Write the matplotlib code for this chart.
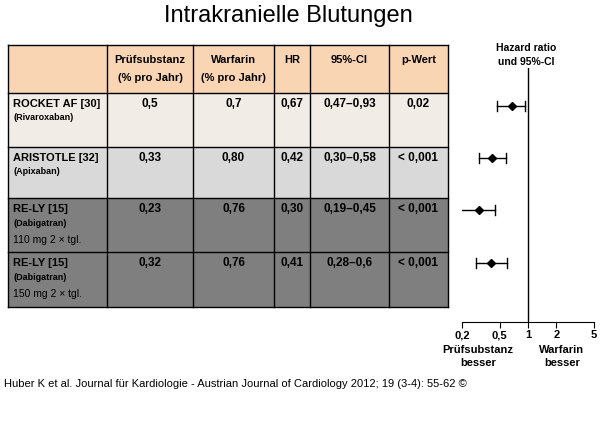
import matplotlib
matplotlib.use("Agg")
import matplotlib.pyplot as plt
from matplotlib.patches import Rectangle

plt.rcParams["font.family"] = "Liberation Sans"

studies = ["ROCKET AF [30]", "ARISTOTLE [32]", "RE-LY [15]", "RE-LY [15]"]
drugs = ["(Rivaroxaban)", "(Apixaban)", "(Dabigatran)", "(Dabigatran)"]
doses = ["", "", "110 mg 2 × tgl.", "150 mg 2 × tgl."]
pruef = ["0,5", "0,33", "0,23", "0,32"]
warf = ["0,7", "0,80", "0,76", "0,76"]
hr_txt = ["0,67", "0,42", "0,30", "0,41"]
ci_txt = ["0,47–0,93", "0,30–0,58", "0,19–0,45", "0,28–0,6"]
p_txt = ["0,02", "< 0,001", "< 0,001", "< 0,001"]
hr = [0.67, 0.42, 0.30, 0.41]
lo = [0.47, 0.30, 0.19, 0.28]
hi = [0.93, 0.58, 0.45, 0.60]
ticks = [0.2, 0.5, 1, 2, 5]
tick_labels = ["0,2", "0,5", "1", "2", "5"]

fig = plt.figure(figsize=(6, 4.32), dpi=100)
ax = fig.add_axes([0, 0, 1, 1])
ax.set_xlim(0, 600); ax.set_ylim(432, 0); ax.axis("off")

ax.text(288, 16, "Intrakranielle Blutungen", ha="center", va="center", fontsize=17)

cols = [8, 107, 193, 274, 310, 389, 448]
rows = [45, 93, 147, 198, 252, 307]
fills = ["#f9d5b3", "#f1ede6", "#d9d9d9", "#7f7f7f", "#7f7f7f"]
for i, c in enumerate(fills):
    ax.add_patch(Rectangle((cols[0], rows[i]), cols[-1] - cols[0], rows[i + 1] - rows[i],
                           facecolor=c, edgecolor="none"))
for y in rows:
    ax.plot([cols[0], cols[-1]], [y, y], color="black", lw=1)
for x in cols:
    ax.plot([x, x], [rows[0], rows[-1]], color="black", lw=1)

hdr = [("Prüfsubstanz", "(% pro Jahr)"), ("Warfarin", "(% pro Jahr)"), ("HR", ""), ("95%-CI", ""), ("p-Wert", "")]
for j, (a, b) in enumerate(hdr):
    xc = (cols[j + 1] + cols[j + 2]) / 2
    ax.text(xc, 60, a, ha="center", va="center", fontsize=8, fontweight="bold")
    if b:
        ax.text(xc, 78, b, ha="center", va="center", fontsize=8, fontweight="bold")

for i in range(4):
    yt = rows[i + 1] + 11
    ax.text(13, yt, studies[i], ha="left", va="center", fontsize=8, fontweight="bold")
    ax.text(13, yt + 14, drugs[i], ha="left", va="center", fontsize=6.5, fontweight="bold")
    if doses[i]:
        ax.text(13, yt + 31, doses[i], ha="left", va="center", fontsize=7.5)
    vals = [pruef[i], warf[i], hr_txt[i], ci_txt[i], p_txt[i]]
    for j, v in enumerate(vals):
        xc = (cols[j + 1] + cols[j + 2]) / 2
        ax.text(xc, yt, v, ha="center", va="center", fontsize=8.5, fontweight="bold")

ax.text(526, 48, "Hazard ratio", ha="center", va="center", fontsize=7.5, fontweight="bold")
ax.text(526, 62, "und 95%-CI", ha="center", va="center", fontsize=7.5, fontweight="bold")
ax.text(478, 350, "Prüfsubstanz", ha="center", va="center", fontsize=8, fontweight="bold")
ax.text(478, 363, "besser", ha="center", va="center", fontsize=8, fontweight="bold")
ax.text(562, 350, "Warfarin", ha="center", va="center", fontsize=8, fontweight="bold")
ax.text(562, 363, "besser", ha="center", va="center", fontsize=8, fontweight="bold")
ax.text(4, 384, "Huber K et al. Journal für Kardiologie - Austrian Journal of Cardiology 2012; 19 (3-4): 55-62 ©",
        ha="left", va="center", fontsize=8)

# forest plot
y0, y1 = 68, 322
fa = fig.add_axes([462 / 600, 1 - y1 / 432, 132 / 600, (y1 - y0) / 432])
fa.set_xscale("log")
fa.set_xlim(0.2, 5)
fa.set_ylim(y1, y0)
fa.patch.set_alpha(0)
for s in ["top", "left", "right"]:
    fa.spines[s].set_visible(False)
fa.set_yticks([])
fa.set_xticks(ticks)
fa.set_xticklabels(tick_labels, fontsize=8, fontweight="bold")
fa.minorticks_off()
fa.tick_params(axis="x", length=4, direction="out", pad=2)
fa.axvline(1, color="black", lw=1)
ys = [106, 158, 210, 263]
for i in range(4):
    fa.plot([lo[i], hi[i]], [ys[i], ys[i]], color="black", lw=1)
    fa.plot([lo[i], lo[i]], [ys[i] - 5, ys[i] + 5], color="black", lw=1)
    fa.plot([hi[i], hi[i]], [ys[i] - 5, ys[i] + 5], color="black", lw=1)
    fa.plot([hr[i]], [ys[i]], marker="D", color="black", markersize=4.5)

fig.savefig("out.png", dpi=100)
